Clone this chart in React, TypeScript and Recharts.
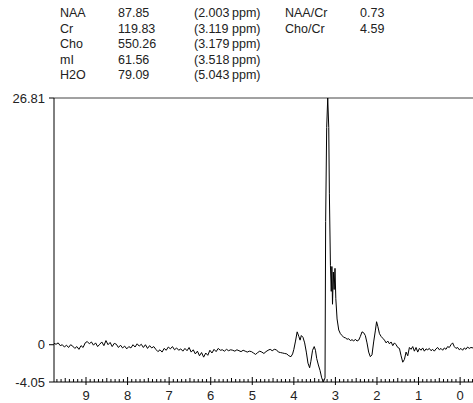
import React from 'react';
import { LineChart, Line, XAxis, YAxis, ReferenceLine } from 'recharts';

// header table
const metabolites = ['NAA', 'Cr', 'Cho', 'mI', 'H2O'];
const amplitudes = ['87.85', '119.83', '550.26', '61.56', '79.09'];
const shifts = ['2.003', '3.119', '3.179', '3.518', '5.043'];
const ratioNames = ['NAA/Cr', 'Cho/Cr'];
const ratioValues = ['0.73', '4.59'];

// axes
const yTicks = [-4.05, 0, 26.81];
const ppmLabels = [9, 8, 7, 6, 5, 4, 3, 2, 1, 0];

// spectrum, [ppm, intensity]
const baselineLeft: [number, number][] = [
  [9.77, 0.15], [9.72, 0.05], [9.67, 0.2], [9.62, -0.1], [9.57, 0.0], [9.52, -0.25],
  [9.47, -0.05], [9.42, -0.3], [9.37, 0.0], [9.32, -0.15], [9.27, -0.4], [9.22, -0.2],
  [9.17, -0.5], [9.12, -0.1], [9.07, -0.3], [9.02, 0.2], [8.97, 0.35], [8.92, 0.1],
  [8.87, 0.3], [8.82, -0.05], [8.77, 0.2], [8.72, -0.2], [8.67, 0.05], [8.62, 0.3],
  [8.57, -0.1], [8.52, 0.45], [8.47, 0.0], [8.42, 0.25], [8.37, -0.2], [8.32, 0.15],
  [8.27, 0.05], [8.22, -0.3], [8.17, -0.05], [8.12, -0.35], [8.07, -0.15], [8.02, -0.45],
  [7.97, -0.2], [7.92, -0.35], [7.87, 0.0], [7.82, -0.25], [7.77, 0.1], [7.72, -0.15],
  [7.67, 0.05], [7.62, -0.3], [7.57, 0.0], [7.52, -0.4], [7.47, -0.1], [7.42, -0.35],
  [7.37, -0.2], [7.32, -0.5], [7.27, -0.75], [7.22, -0.55], [7.17, -0.8], [7.12, -0.4],
  [7.07, -0.6], [7.02, -0.25], [6.97, -0.45], [6.92, -0.2], [6.87, -0.55], [6.82, -0.35],
  [6.77, -0.6], [6.72, -0.45], [6.67, -0.7], [6.62, -0.4], [6.57, -0.65], [6.52, -0.3],
  [6.47, -0.8], [6.42, -0.55], [6.37, -1.0], [6.32, -0.7], [6.27, -1.2], [6.22, -0.85],
  [6.17, -1.35], [6.12, -0.9], [6.07, -1.15], [6.02, -0.6], [5.97, -0.9], [5.92, -0.5],
  [5.87, -0.75], [5.82, -0.4], [5.77, -0.6], [5.72, -0.55], [5.67, -0.7], [5.62, -0.5],
  [5.57, -0.65], [5.52, -0.55], [5.47, -0.6], [5.42, -0.7], [5.37, -0.55], [5.32, -0.65],
  [5.27, -0.75], [5.22, -0.6], [5.17, -0.7], [5.12, -0.8], [5.07, -0.7], [5.02, -0.75],
  [4.97, -0.9], [4.92, -1.05], [4.87, -0.85], [4.82, -0.7], [4.77, -0.8], [4.72, -0.95],
  [4.67, -0.75], [4.62, -0.6], [4.57, -0.5], [4.52, -0.65], [4.47, -0.5],
];

const metaboliteRegion: [number, number][] = [
  [4.42, -0.55], [4.37, -0.8], [4.32, -0.85], [4.27, -0.9], [4.22, -0.95], [4.17, -1.0],
  [4.12, -1.2], [4.07, -1.3], [4.03, -1.0], [4.0, -0.5], [3.96, 0.4], [3.92, 1.4],
  [3.88, 0.9], [3.85, 0.5], [3.82, 1.0], [3.78, 0.8], [3.74, 0.2], [3.7, -0.8],
  [3.66, -2.0], [3.62, -2.5], [3.59, -1.8], [3.55, -0.6], [3.51, -0.2], [3.48, -0.6],
  [3.45, -1.5], [3.41, -2.2], [3.37, -2.8], [3.33, -3.6], [3.29, -4.05], [3.25, -3.6],
  [3.235, 13.4], [3.21, 23.6], [3.185, 26.81], [3.16, 23.6], [3.145, 16.4], [3.12, 8.6],
  [3.1, 5.8], [3.085, 8.5], [3.07, 4.4], [3.05, 7.9], [3.03, 6.0], [3.01, 8.3],
  [2.99, 5.0], [2.96, 2.8], [2.92, 1.6], [2.88, 1.2], [2.84, 1.0], [2.8, 0.8],
  [2.76, 0.75], [2.72, 0.6], [2.68, 0.65], [2.64, 0.45], [2.6, 0.55], [2.56, 0.4],
  [2.52, 0.6], [2.48, 0.4], [2.44, 0.5], [2.4, 0.9], [2.36, 1.4], [2.32, 1.3],
  [2.28, 1.0], [2.24, 0.2], [2.2, -0.8], [2.16, -1.3], [2.12, -1.1], [2.08, 0.3],
  [2.04, 1.5], [2.01, 2.5], [1.98, 2.0], [1.94, 1.2], [1.9, 0.9], [1.86, 0.7],
  [1.82, 0.5], [1.78, 0.2], [1.74, 0.4], [1.7, 0.1], [1.66, 0.3], [1.62, -0.1],
  [1.58, 0.2], [1.54, 0.0], [1.5, -0.3], [1.46, -0.4], [1.42, -1.2], [1.38, -1.9],
  [1.34, -1.6], [1.3, -0.8], [1.26, -1.2], [1.22, -0.3], [1.18, -0.5],
];

const baselineRight: [number, number][] = [
  [1.14, -0.2], [1.1, -0.7], [1.06, -0.3], [1.02, -0.8], [0.98, -0.4], [0.94, -0.6],
  [0.9, -0.35], [0.86, -0.7], [0.82, -0.45], [0.78, -0.55], [0.74, -0.4], [0.7, -0.65],
  [0.66, -0.5], [0.62, -0.7], [0.58, -0.45], [0.54, -0.3], [0.5, -0.55], [0.46, -0.4],
  [0.42, -0.6], [0.38, -0.35], [0.34, -0.5], [0.3, -0.2], [0.26, -0.3], [0.22, 0.0],
  [0.18, 0.2], [0.14, -0.2], [0.1, -0.4], [0.06, -0.3], [0.02, -0.55], [-0.02, -0.4],
  [-0.06, -0.6], [-0.1, -0.35], [-0.14, -0.5], [-0.18, -0.25], [-0.22, -0.4], [-0.26, -0.3],
  [-0.31, -0.35],
];

const spectrum = [...baselineLeft, ...metaboliteRegion, ...baselineRight].map(([ppm, v]) => ({ ppm, v }));

// tick every 0.1 ppm
const minorTicks = Array.from({ length: 101 }, (_, i) => Math.round((9.7 - i * 0.1) * 10) / 10);

const FONT = '"Liberation Sans", Arial, sans-serif';

const PpmTick = (props: any) => {
  const { x, y, payload } = props;
  const tenth = Math.round(payload.value * 10);
  const major = tenth % 10 === 0;
  const half = tenth % 5 === 0;
  const up = major ? 5 : half ? 4 : 3;
  const label = ppmLabels.find((p) => p * 10 === tenth);
  return (
    <g>
      <line x1={x} x2={x} y1={y - up} y2={major ? y + 3 : y} stroke="#000" />
      {label !== undefined && (
        <text x={x} y={y + 18} textAnchor="middle" fontSize={13} fill="#222" fontFamily={FONT}>
          {label}
        </text>
      )}
    </g>
  );
};

const cell = (left: number, top: number): React.CSSProperties => ({
  position: 'absolute',
  left,
  top,
  whiteSpace: 'nowrap',
});

export default function App() {
  return (
    <div
      style={{
        position: 'absolute',
        left: 0,
        top: 0,
        width: 473,
        height: 403,
        overflow: 'hidden',
        background: '#fff',
        fontFamily: FONT,
        fontSize: 12.5,
        lineHeight: '16px',
        color: '#222',
      }}
    >
      {metabolites.map((m, i) => (
        <React.Fragment key={m}>
          <div style={cell(60, 5 + i * 15.5)}>{m}</div>
          <div style={cell(118, 5 + i * 15.5)}>{amplitudes[i]}</div>
          <div style={cell(194, 5 + i * 15.5)}>({shifts[i]}</div>
          <div style={cell(232, 5 + i * 15.5)}>ppm)</div>
        </React.Fragment>
      ))}
      {ratioNames.map((r, i) => (
        <React.Fragment key={r}>
          <div style={cell(285, 5 + i * 15.5)}>{r}</div>
          <div style={cell(360, 5 + i * 15.5)}>{ratioValues[i]}</div>
        </React.Fragment>
      ))}
      <div style={{ position: 'absolute', left: 0, top: 0 }}>
        <LineChart
          width={473}
          height={403}
          data={spectrum}
          margin={{ top: 98, right: 0, bottom: 0, left: 0 }}
          style={{ fontFamily: FONT }}
        >
          <XAxis
            dataKey="ppm"
            type="number"
            domain={[-0.31, 9.77]}
            reversed
            allowDataOverflow
            ticks={minorTicks}
            interval={0}
            tickSize={0}
            tickMargin={0}
            tickLine={false}
            tick={PpmTick}
            height={21}
            axisLine={{ stroke: '#000' }}
          />
          <YAxis
            type="number"
            domain={[-4.05, 26.81]}
            allowDataOverflow
            ticks={yTicks}
            interval={0}
            width={54}
            tickSize={5}
            tickMargin={4}
            tick={{ fontSize: 13, fill: '#222' }}
            tickLine={{ stroke: '#000' }}
            axisLine={{ stroke: '#000' }}
          />
          <ReferenceLine y={26.81} stroke="#444" />
          <Line
            type="linear"
            dataKey="v"
            stroke="#000"
            strokeWidth={1}
            dot={false}
            isAnimationActive={false}
          />
        </LineChart>
      </div>
    </div>
  );
}
